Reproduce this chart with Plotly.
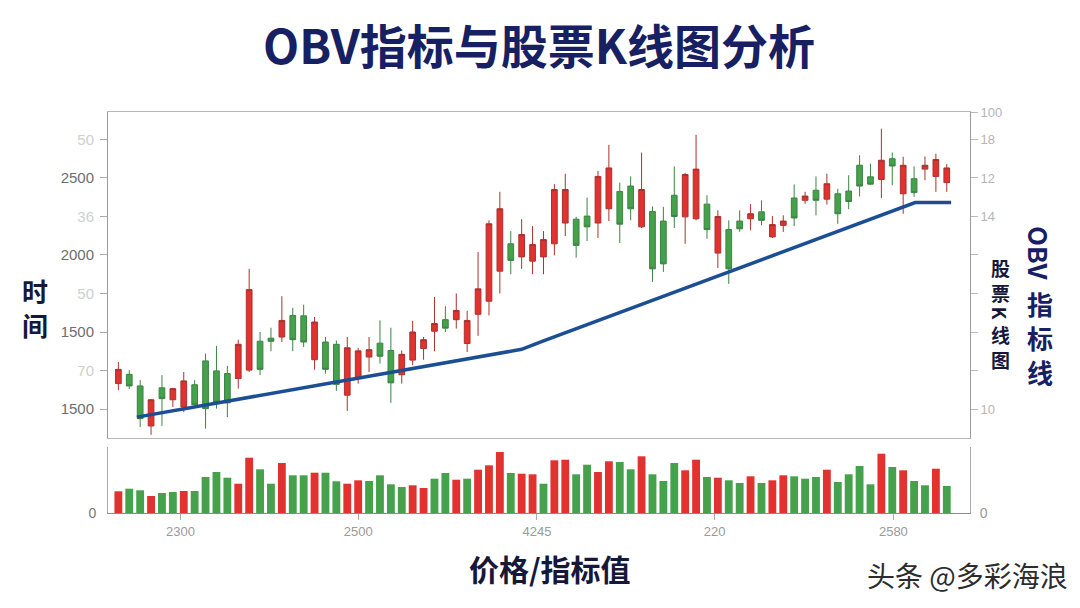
import plotly.graph_objects as go

# ---------------- data ----------------
idx = list(range(77))
opens = [1366, 1390, 1360, 1256, 1355, 1324, 1305, 1363, 1425, 1399,
         1392, 1379, 1401, 1476, 1484, 1487, 1543, 1542, 1428, 1474,
         1468, 1336, 1379, 1435, 1471, 1452, 1389, 1427, 1457, 1502,
         1532, 1532, 1470, 1546, 1580, 1658, 1729, 1695, 1684, 1695,
         1729, 1783, 1793, 1801, 1783, 1820, 1865, 1879, 1773, 1813,
         1788, 1855, 1799, 1794, 1832, 1705, 1766, 1788, 1794, 1812,
         1747, 1777, 1848, 1842, 1868, 1845, 1859, 1866, 1933, 1903,
         1896, 1950, 1859, 1898, 1923, 1904, 1888]
highs = [1422, 1401, 1375, 1326, 1388, 1355, 1396, 1375, 1444, 1464,
         1412, 1480, 1664, 1500, 1511, 1593, 1563, 1571, 1539, 1487,
         1478, 1487, 1459, 1487, 1530, 1511, 1452, 1529, 1487, 1591,
         1567, 1600, 1555, 1708, 1790, 1864, 1762, 1793, 1775, 1762,
         1884, 1911, 1799, 1849, 1918, 1986, 1888, 1904, 1966, 1826,
         1825, 1930, 1913, 2012, 1855, 1816, 1790, 1816, 1832, 1842,
         1801, 1803, 1883, 1864, 1904, 1911, 1872, 1907, 1959, 1937,
         2028, 1966, 1955, 1930, 1956, 1963, 1936]
lows = [1349, 1352, 1253, 1233, 1256, 1305, 1292, 1310, 1249, 1301,
        1279, 1353, 1396, 1388, 1450, 1474, 1450, 1461, 1402, 1392,
        1347, 1295, 1366, 1396, 1418, 1316, 1366, 1414, 1428, 1450,
        1500, 1509, 1448, 1490, 1543, 1600, 1650, 1664, 1650, 1650,
        1699, 1749, 1693, 1736, 1744, 1788, 1731, 1790, 1770, 1630,
        1656, 1770, 1729, 1790, 1742, 1666, 1625, 1760, 1764, 1777,
        1744, 1760, 1775, 1833, 1803, 1831, 1781, 1819, 1852, 1882,
        1848, 1881, 1807, 1851, 1894, 1864, 1864]
closes = [1403, 1360, 1275, 1324, 1327, 1353, 1373, 1311, 1301, 1318,
          1316, 1468, 1610, 1403, 1476, 1530, 1480, 1474, 1526, 1403,
          1364, 1459, 1451, 1454, 1437, 1368, 1442, 1500, 1480, 1522,
          1510, 1556, 1530, 1612, 1781, 1820, 1686, 1753, 1727, 1740,
          1870, 1870, 1725, 1773, 1904, 1926, 1780, 1820, 1870, 1664,
          1677, 1800, 1909, 1923, 1766, 1800, 1664, 1768, 1807, 1790,
          1779, 1788, 1796, 1853, 1842, 1885, 1807, 1839, 1879, 1884,
          1946, 1931, 1933, 1862, 1933, 1948, 1926]
volume = [217, 243, 227, 170, 200, 210, 220, 220, 360, 410,
          353, 293, 553, 437, 293, 500, 377, 377, 403, 403,
          317, 293, 327, 320, 377, 287, 260, 277, 250, 343,
          400, 333, 343, 433, 477, 610, 400, 393, 387, 293,
          527, 533, 387, 483, 410, 517, 510, 437, 567, 387,
          320, 500, 427, 533, 360, 353, 327, 300, 367, 300,
          327, 377, 367, 343, 360, 433, 310, 387, 470, 287,
          593, 460, 427, 320, 277, 443, 270]
volume_dir = list("rggrggrggg" "grrggrggrg" "grrggggrrg" "grgrrrgrrg"
                  "rrggrrggrg" "ggrrgrggrg" "rrgggrgggg" "rgrggrg")
obv_x = [1.7, 35.0, 37.0, 39.0, 73.1, 76.4]
obv_y = [1279, 1444, 1455, 1477, 1836, 1836]

x_tick_vals = [5.7, 22.0, 38.4, 54.7, 71.1]
x_tick_text = ["2300", "2500", "4245", "220", "2580"]
left_tick_vals = [1300, 1400, 1500, 1600, 1700, 1800, 1900, 2000]
left_tick_text = ["1500", "70", "1500", "50", "2000", "36", "2500", "50"]
left_tick_faded = [False, True, False, True, False, True, False, True]
right_tick_vals = [1300, 1400, 1500, 1600, 1700, 1800, 1900, 2000, 2069]
right_tick_text = ["10", "", "", "", "", "14", "12", "18", "100"]

# ---------------- styling ----------------
RED = "#e2322f"
GREEN = "#45a14b"
RED_LINE = "#a8322e"
GREEN_LINE = "#3b8442"
NAVY = "#172063"
DARK = "#16183a"
CJK = "Noto Sans CJK SC"
NUM = "Liberation Sans"

left_ticktext = [
    (f"<span style='color:#cfcfcf'>{t}</span>" if f else t)
    for t, f in zip(left_tick_text, left_tick_faded)
]

fig = go.Figure()

fig.add_trace(go.Candlestick(
    x=idx, open=opens, high=highs, low=lows, close=closes,
    xaxis="x", yaxis="y",
    increasing=dict(line=dict(color=RED_LINE, width=1), fillcolor=RED),
    decreasing=dict(line=dict(color=GREEN_LINE, width=1), fillcolor=GREEN),
    whiskerwidth=0, showlegend=False, hoverinfo="skip",
))

fig.add_trace(go.Scatter(
    x=obv_x, y=obv_y, mode="lines", xaxis="x", yaxis="y3",
    line=dict(color="#1c4e94", width=3.5), showlegend=False, hoverinfo="skip",
))

fig.add_trace(go.Bar(
    x=idx, y=volume, xaxis="x2", yaxis="y2",
    marker=dict(color=[RED if d == "r" else GREEN for d in volume_dir], line=dict(width=0)),
    showlegend=False, hoverinfo="skip",
))

fig.add_trace(go.Scatter(
    x=[0], y=[0], xaxis="x2", yaxis="y4", mode="markers",
    marker=dict(opacity=0), showlegend=False, hoverinfo="skip",
))

xrange = [-0.95, 78.13]
yrange = [1224.7, 2071.3]

fig.update_layout(
    width=1080, height=608,
    margin=dict(l=108, r=110, t=112, b=95),
    paper_bgcolor="white", plot_bgcolor="white",
    boxgap=0.25, bargap=0.28,
    title=dict(
        text="OBV指标与股票K线图分析",
        font=dict(family=CJK, size=47, color=NAVY, weight="bold"),
        x=0.5, xref="paper", xanchor="center",
        y=1 - 48 / 608, yref="container", yanchor="middle",
    ),
    xaxis=dict(
        domain=[0, 1], anchor="y", range=xrange,
        showticklabels=False, ticks="", showgrid=False, zeroline=False,
        showline=True, mirror=True, linecolor="#b8b8b8", linewidth=1,
        rangeslider=dict(visible=False),
    ),
    yaxis=dict(
        domain=[0.187, 1], anchor="x", range=yrange,
        tickmode="array", tickvals=left_tick_vals, ticktext=left_ticktext,
        ticks="outside", ticklen=7, tickcolor="#aaaaaa", ticklabelstandoff=3,
        tickfont=dict(family=NUM, size=15, color="#6e6e6e"),
        showgrid=False, zeroline=False,
        showline=True, linecolor="#9a9a9a", linewidth=1,
    ),
    yaxis3=dict(
        overlaying="y", side="right", anchor="x", range=yrange,
        tickmode="array", tickvals=right_tick_vals, ticktext=right_tick_text,
        ticks="outside", ticklen=7, tickcolor="#bbbbbb",
        tickfont=dict(family=NUM, size=13, color="#b5b5b5"),
        showgrid=False, zeroline=False,
        showline=True, linecolor="#9a9a9a", linewidth=1,
    ),
    xaxis2=dict(
        domain=[0, 1], anchor="y2", matches="x",
        tickmode="array", tickvals=x_tick_vals, ticktext=x_tick_text,
        ticks="outside", ticklen=6, tickcolor="#aaaaaa",
        tickfont=dict(family=NUM, size=13, color="#9a9a9a"),
        showgrid=False, zeroline=False,
        showline=True, linecolor="#8a8a8a", linewidth=1,
    ),
    yaxis2=dict(
        domain=[0, 0.1646], anchor="x2", range=[0, 660],
        tickmode="array", tickvals=[0], ticktext=["0"], ticks="",
        ticklabelstandoff=8,
        tickfont=dict(family=NUM, size=14, color="#777777"),
        showgrid=False, zeroline=False,
        showline=True, linecolor="#aaaaaa", linewidth=1,
    ),
    yaxis4=dict(
        overlaying="y2", side="right", anchor="x2", range=[0, 660],
        tickmode="array", tickvals=[0], ticktext=["0"], ticks="",
        ticklabelstandoff=6,
        tickfont=dict(family=NUM, size=14, color="#999999"),
        showgrid=False, zeroline=False,
        showline=True, linecolor="#aaaaaa", linewidth=1,
    ),
)

def px_x(x):
    return (x - 108) / 862

def px_y(y):
    return (513 - y) / 401

annotations = [
    dict(text="时<br>间", x=px_x(35), y=px_y(307),
         font=dict(family=CJK, size=26, color=DARK, weight="bold")),
    dict(text="价格/指标值", x=px_x(550), y=px_y(568),
         font=dict(family=CJK, size=30, color=DARK, weight="bold")),
    dict(text="头条 @多彩海浪", x=px_x(967), y=px_y(575),
         font=dict(family=CJK, size=28, color="#2c2c2c")),
    # right vertical label: 股票K线图
    dict(text="股<br>票", x=px_x(1000), y=px_y(280),
         font=dict(family=CJK, size=19, color=DARK, weight="bold")),
    dict(text="K", x=px_x(1000), y=px_y(313.5), textangle=90,
         font=dict(family=CJK, size=19, color=DARK, weight="bold")),
    dict(text="线<br>图", x=px_x(1000), y=px_y(347),
         font=dict(family=CJK, size=19, color=DARK, weight="bold")),
    # OBV指标线
    dict(text="OBV", x=px_x(1040), y=px_y(253), textangle=90,
         font=dict(family=CJK, size=26, color=NAVY, weight="bold")),
    dict(text="指<br>标<br>线", x=px_x(1040), y=px_y(337),
         font=dict(family=CJK, size=26, color=NAVY, weight="bold")),
]
for a in annotations:
    a.update(xref="paper", yref="paper", showarrow=False,
             xanchor="center", yanchor="middle")
fig.update_layout(annotations=annotations)

fig.write_html("out.html")
